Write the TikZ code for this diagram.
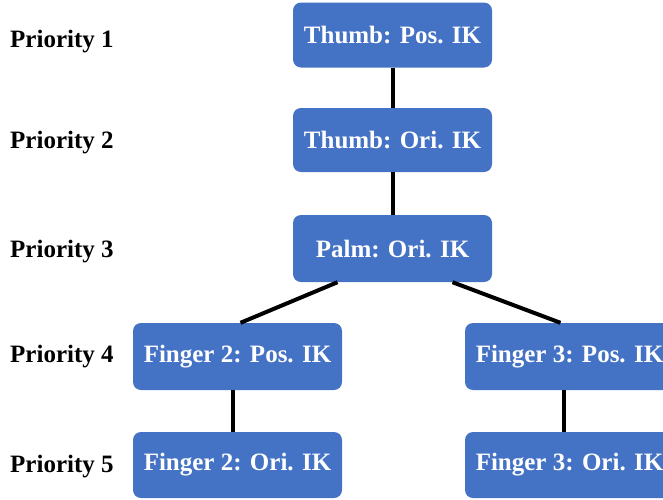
\documentclass[tikz,border=0pt]{standalone}
\usepackage{fontspec}
\setmainfont{Liberation Serif}
\usetikzlibrary{calc}
\definecolor{boxblue}{HTML}{4472C4}
\tikzset{
  ikbox/.style={rectangle, rounded corners=8pt, fill=boxblue, text=white,
    font=\fontsize{25}{27}\selectfont\bfseries, minimum height=65pt, inner sep=0pt},
  prio/.style={anchor=west, font=\fontsize{25}{27}\selectfont\bfseries, inner sep=0pt},
  link/.style={line width=4pt, black}
}
\begin{document}
\begin{tikzpicture}[x=1pt,y=-1pt]
\useasboundingbox (0,0) rectangle (663,499);
\node[ikbox, minimum width=199pt] (t1) at (392.5,35) {Thumb: Pos. IK};
\node[ikbox, minimum width=199pt, minimum height=64pt] (t2) at (392.5,140) {Thumb: Ori. IK};
\node[ikbox, minimum width=199pt, minimum height=67pt] (palm) at (392.5,248.5) {Palm: Ori. IK};
\node[ikbox, minimum width=209pt, minimum height=67pt] (f2p) at (237.5,356.5) {Finger 2: Pos. IK};
\node[ikbox, minimum width=209pt, minimum height=66pt] (f2o) at (237.5,465) {Finger 2: Ori. IK};
\node[ikbox, minimum width=209pt, minimum height=67pt] (f3p) at (569.5,356.5) {Finger 3: Pos. IK};
\node[ikbox, minimum width=209pt, minimum height=66pt] (f3o) at (569.5,465) {Finger 3: Ori. IK};

\node[prio] (p1) at (10,42) {Priority 1};
\node[prio] (p2) at (10,143) {Priority 2};
\node[prio] (p3) at (10,252) {Priority 3};
\node[prio] (p4) at (10,357) {Priority 4};
\node[prio] (p5) at (10,467) {Priority 5};

\draw[link] (t1.south) -- (t2.north);
\draw[link] (t2.south) -- (palm.north);
\draw[link] ($(palm.south)+(-55,0)$) -- ($(f2p.north)+(3,0)$);
\draw[link] ($(palm.south)+(60,0)$) -- ($(f3p.north)+(-9,0)$);
\draw[link] ($(f2p.south)+(-5,0)$) -- ($(f2o.north)+(-5,0)$);
\draw[link] ($(f3p.south)+(-6,0)$) -- ($(f3o.north)+(-6,0)$);
\end{tikzpicture}
\end{document}
